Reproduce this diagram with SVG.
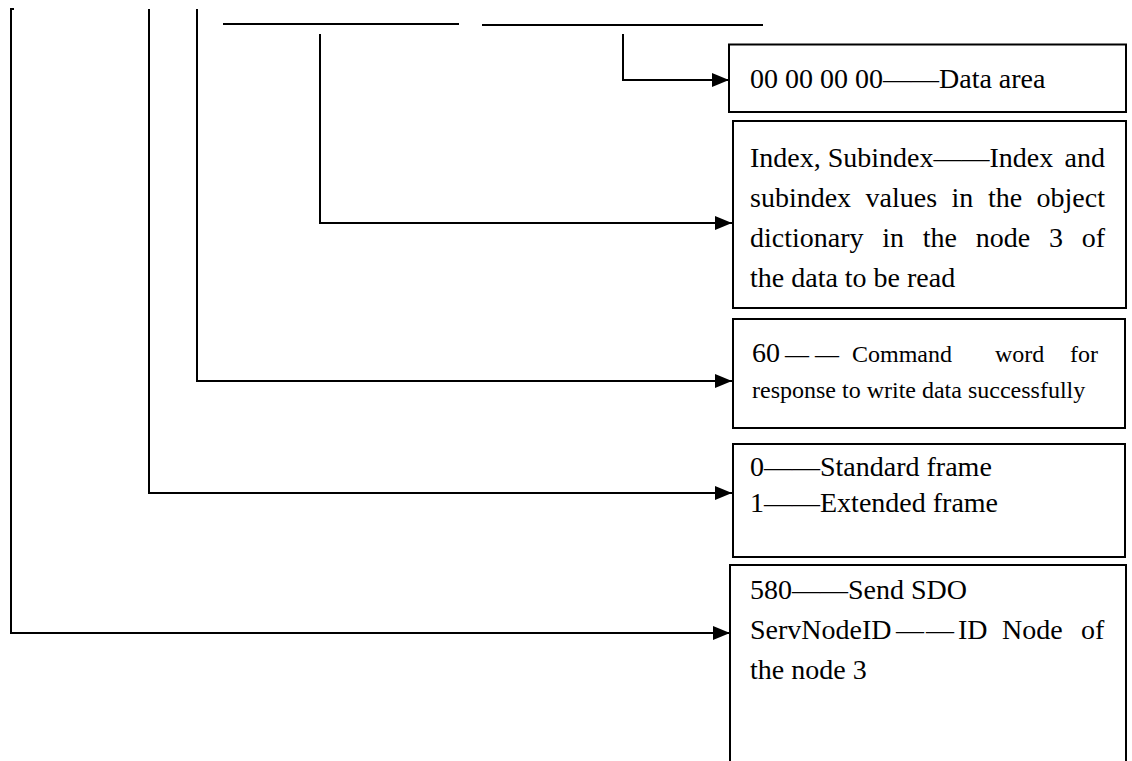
<svg xmlns="http://www.w3.org/2000/svg" width="1132" height="761" viewBox="0 0 1132 761">
  <defs>
    <marker id="arrow" markerUnits="userSpaceOnUse" markerWidth="18" markerHeight="16" refX="17" refY="8" orient="auto">
      <polygon points="0,1 17,8 0,15" fill="#000"/>
    </marker>
    <style>
      .wire { fill: none; stroke: #000; stroke-width: 2; }
      .box { fill: #fff; stroke: #000; stroke-width: 2; }
      .t { font-family: "Liberation Serif", "Times New Roman", serif; font-size: 28px; fill: #000; }
      .s { font-size: 24px; }
    </style>
  </defs>
  <rect width="1132" height="761" fill="#fff"/>

  <!-- connectors: frame fields fanned out to their explanations -->
  <g id="connectors">
    <path class="wire" d="M14 9 H11 V633 H730" marker-end="url(#arrow)"/>
    <path class="wire" d="M149 9 V493 H732" marker-end="url(#arrow)"/>
    <path class="wire" d="M197 9 V381 H732" marker-end="url(#arrow)"/>
    <path class="wire" d="M320 34 V223 H732" marker-end="url(#arrow)"/>
    <path class="wire" d="M623 34 V80 H729" marker-end="url(#arrow)"/>
    <line class="wire" x1="223" y1="24" x2="459" y2="24"/>
    <line class="wire" x1="482" y1="25" x2="763" y2="25"/>
  </g>

  <g id="data-area">
    <rect class="box" x="729" y="44.5" width="397" height="67.5"/>
    <text class="t" x="750" y="88">00 00 00 00——Data area</text>
  </g>

  <g id="index">
    <rect class="box" x="733" y="121" width="393" height="187"/>
    <text class="t" y="167"><tspan x="750">Index, Subindex——Index</tspan><tspan x="1105" text-anchor="end">and</tspan></text>
    <text class="t" y="207"><tspan x="750">subindex</tspan><tspan x="865.6">values</tspan><tspan x="951.6">in</tspan><tspan x="987.9">the</tspan><tspan x="1036.6">object</tspan></text>
    <text class="t" y="247"><tspan x="750">dictionary</tspan><tspan x="882.3">in</tspan><tspan x="922.8">the</tspan><tspan x="975.8">node</tspan><tspan x="1049">3</tspan><tspan x="1081.7">of</tspan></text>
    <text class="t" x="750" y="287">the data to be read</text>
  </g>

  <g id="command">
    <rect class="box" x="733" y="319" width="392" height="109"/>
    <text class="t" y="362"><tspan x="752">60</tspan><tspan class="s" x="785">—</tspan><tspan class="s" x="815">—</tspan><tspan class="s" x="852">Command</tspan><tspan class="s" x="995">word</tspan><tspan class="s" x="1070">for</tspan></text>
    <text class="t s" x="752" y="398">response to write data successfully</text>
  </g>

  <g id="frame-type">
    <rect class="box" x="733" y="444" width="392" height="113"/>
    <text class="t" x="750" y="476">0——Standard frame</text>
    <text class="t" x="750" y="512">1——Extended frame</text>
  </g>

  <g id="cob-id">
    <path class="box" d="M730 770 V565 H1126 V770"/>
    <text class="t" x="750" y="599">580——Send SDO</text>
    <text class="t" y="639"><tspan x="750">ServNodeID</tspan><tspan x="896">—</tspan><tspan x="926">—</tspan><tspan x="958">ID</tspan><tspan x="1002">Node</tspan><tspan x="1081">of</tspan></text>
    <text class="t" x="750" y="679">the node 3</text>
  </g>
</svg>
